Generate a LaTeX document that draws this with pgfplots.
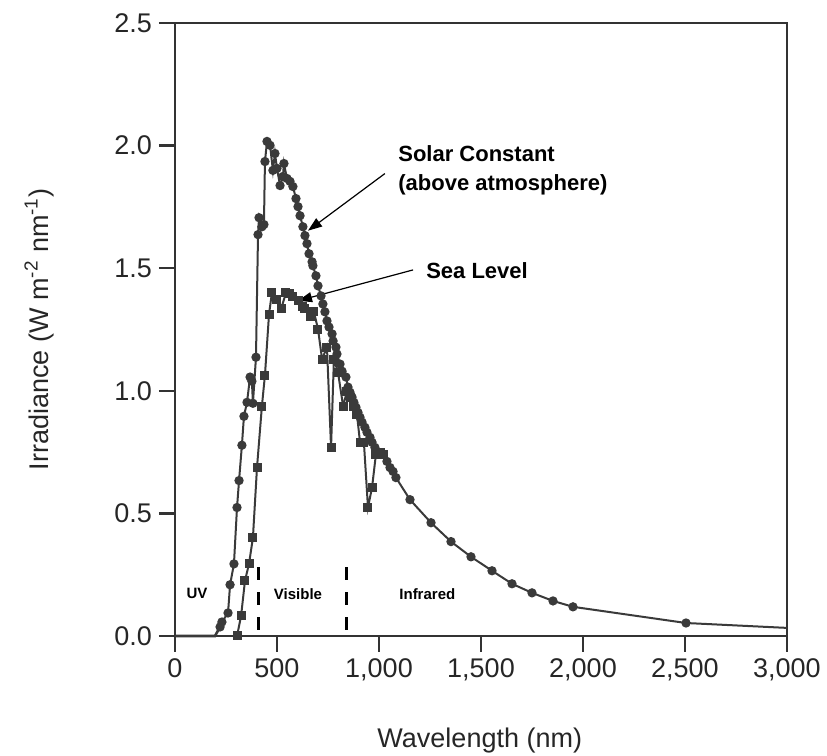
\documentclass[border=0pt]{standalone}
\usepackage{fontspec}
\setmainfont{Liberation Sans}
\usepackage{pgfplots}
\pgfplotsset{compat=1.18}
\usetikzlibrary{arrows.meta}
\definecolor{curve}{HTML}{3A3A3A}
\definecolor{frame}{HTML}{333333}

\begin{document}
\begin{tikzpicture}
\begin{axis}[
  name=ax,
  scale only axis,
  width=306pt,
  height=306.5pt,
  xmin=0, xmax=3000,
  ymin=0, ymax=2.5,
  xtick={0,500,1000,1500,2000,2500,3000},
  ytick={0,0.5,1,1.5,2,2.5},
  axis line style={frame, line width=1.2pt},
  tick style={frame, line width=1.2pt},
  major tick length=8pt,
  tick align=outside,
  xtick pos=bottom,
  ytick pos=left,
  ticklabel style={font=\fontsize{13.5}{16}\selectfont, text=black!85},
  x tick label style={/pgf/number format/.cd, 1000 sep={,}, assume math mode=true},
  y tick label style={/pgf/number format/.cd, fixed, fixed zerofill, precision=1, assume math mode=true},
  xlabel={Wavelength (nm)},
  ylabel={Irradiance (W m\textsuperscript{-2} nm\textsuperscript{-1})},
  label style={font=\fontsize{13.5}{16}\selectfont, text=black!85},
  xlabel style={at={(axis description cs:0.498,-0.17)}, anchor=center},
  ylabel style={at={(axis description cs:-0.222,0.5)}, anchor=center},
  clip=false,
]
% solar constant: unmarked ends
\addplot[curve, line width=1.3pt, no marks] coordinates {(0,0) (196,0) (221,0.037)};
\addplot[curve, line width=1pt, no marks] coordinates {(2505,0.053) (3000,0.033)};
% solar constant (above atmosphere)
\addplot[curve, line width=1pt, mark=*, mark size=1.8pt, mark options={fill=curve, draw=curve}]
coordinates {
  (221,0.037) (230,0.057) (260,0.094) (270,0.209) (289,0.294) (304,0.524)
  (314,0.634) (328,0.778) (338,0.896) (353,0.953) (368,1.056) (377,1.039)
  (382,0.949) (397,1.137) (407,1.637) (412,1.706) (426,1.669) (436,1.678)
  (441,1.935) (451,2.017) (466,2.001) (480,1.899) (490,1.968) (500,1.907)
  (515,1.837) (529,1.874) (534,1.927) (549,1.866) (564,1.854) (578,1.833)
  (593,1.784) (603,1.751) (613,1.714) (627,1.669) (637,1.633) (647,1.600)
  (657,1.559) (672,1.526) (676,1.510) (691,1.469) (701,1.428) (716,1.387)
  (725,1.354) (735,1.322) (745,1.285) (755,1.260) (770,1.232) (775,1.203)
  (789,1.178) (794,1.150) (809,1.109) (819,1.080) (838,1.056) (848,1.015)
  (858,0.994) (868,0.974) (877,0.953) (887,0.933) (897,0.912) (907,0.892)
  (917,0.872) (931,0.851) (941,0.831) (956,0.810) (966,0.790) (980,0.769)
  (995,0.749) (1020,0.741) (1039,0.712) (1054,0.687) (1069,0.671) (1083,0.646)
  (1152,0.556) (1255,0.462) (1353,0.385) (1451,0.323) (1554,0.266) (1652,0.213)
  (1750,0.176) (1853,0.143) (1951,0.119) (2505,0.053)
};
% sea level
\addplot[curve, line width=1pt, mark=square*, mark size=1.75pt, mark options={fill=curve, draw=curve}]
coordinates {
  (304,0) (324,0.082) (343,0.225) (363,0.295) (382,0.401) (402,0.687)
  (426,0.937) (441,1.064) (461,1.313) (475,1.399) (500,1.371) (520,1.334)
  (544,1.399) (559,1.395) (578,1.383) (603,1.367) (623,1.342) (637,1.334)
  (662,1.301) (681,1.322) (701,1.252) (721,1.129) (745,1.178) (765,0.769)
  (779,1.129) (799,1.076) (824,0.937) (843,0.998) (858,0.974) (873,0.937)
  (892,0.904) (907,0.790) (926,0.790) (946,0.524) (966,0.606) (985,0.741)
  (1005,0.749) (1020,0.741)
};
% region separators
\draw[black, line width=1.5pt, dash pattern=on 6.5pt off 6pt] (axis cs:410,0.28) -- (axis cs:410,0);
\draw[black, line width=1.5pt, dash pattern=on 6.5pt off 6pt] (axis cs:840,0.28) -- (axis cs:840,0);
\node[font=\fontsize{7.5}{9}\selectfont\bfseries] at (axis cs:108,0.172) {UV};
\node[font=\fontsize{7.5}{9}\selectfont\bfseries] at (axis cs:603,0.170) {Visible};
\node[font=\fontsize{7.5}{9}\selectfont\bfseries] at (axis cs:1237,0.172) {Infrared};
% annotations
\node[anchor=west, align=left, font=\fontsize{11}{14.5}\selectfont\bfseries, inner sep=0pt] at (axis cs:1093,1.90) {Solar Constant\\(above atmosphere)};
\draw[black, line width=0.6pt, -{Triangle[length=7pt,width=5pt]}] (axis cs:1029,1.886) -- (axis cs:652,1.653);
\node[anchor=west, font=\fontsize{11}{14}\selectfont\bfseries, inner sep=0pt] at (axis cs:1230,1.489) {Sea Level};
\draw[black, line width=0.6pt, -{Triangle[length=7pt,width=5pt]}] (axis cs:1167,1.493) -- (axis cs:603,1.367);
\end{axis}
\pgfresetboundingbox
\path[use as bounding box] ([shift={(-87.5pt,-60pt)}]ax.south west) rectangle ([shift={(326pt,318pt)}]ax.south west);
\end{tikzpicture}
\end{document}
